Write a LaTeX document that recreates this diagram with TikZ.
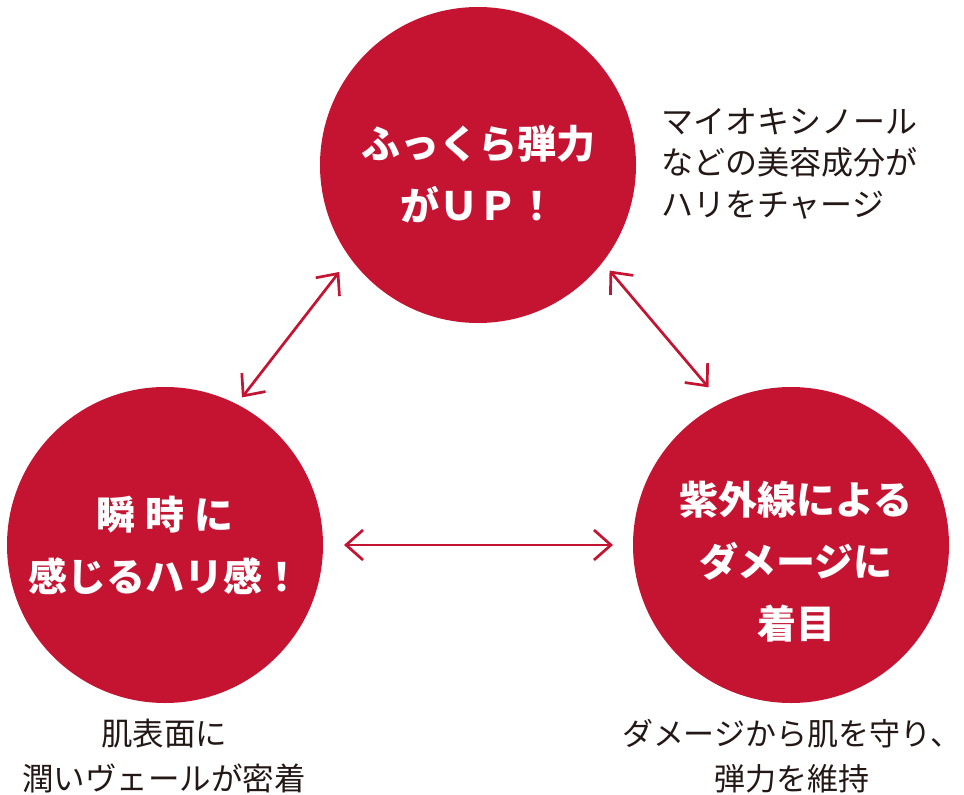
\documentclass[tikz,border=0pt]{standalone}
\usepackage{fontspec}
\newfontfamily\jpfont{Noto Sans CJK JP}
\definecolor{circred}{RGB}{197, 20, 50}
\definecolor{textblack}{RGB}{35, 24, 21}
\usetikzlibrary{arrows.meta}

\begin{document}
\begin{tikzpicture}[x=1pt, y=-1pt,
  bubble/.style={circle, fill=circred, minimum size=316pt, inner sep=0pt, outer sep=0pt},
  bubbletext/.style={text=white, align=center, inner sep=0pt, font=\jpfont\bfseries\fontsize{39}{62}\selectfont},
  note/.style={text=textblack, align=center, inner sep=0pt, font=\jpfont\fontsize{31.5}{45}\selectfont},
  link/.style={circred, line width=2.7pt, {Straight Barb[length=17pt, width=30pt]}-{Straight Barb[length=17pt, width=30pt]}}]
  \useasboundingbox (0,0) rectangle (964,795);

  % three circles
  \node[bubble] (top) at (478, 165) {};
  \node[bubbletext] (toptext) at (478, 174) {ふっくら弾力\\がＵＰ！};

  \node[bubble] (left) at (165, 545) {};
  \node[bubbletext] (lefttext) at (165, 545) {瞬\hspace{10pt}時\hspace{10pt}に\\感じるハリ感！};

  \node[bubble] (right) at (791, 545) {};
  \node[bubbletext] (righttext) at (796, 562) {紫外線による\\ダメージに\\着目};

  % notes
  \node[note, anchor=west, align=left, font=\jpfont\fontsize{32}{41.5}\selectfont] (topnote) at (661, 163.5) {マイオキシノール\\などの美容成分が\\ハリをチャージ};
  \node[note] (leftnote) at (164, 756.5) {肌表面に\\潤いヴェールが密着};
  \node[note, font=\jpfont\fontsize{31}{45}\selectfont] (rightnote) at (792, 756.5) {ダメージから肌を守り、\\弾力を維持};

  % arrows
  \draw[link, shorten <=17.8pt, shorten >=8.6pt] (top.216.6) -- (left.63.4);
  \draw[link, shorten <=10.9pt, shorten >=20.5pt] (top.322.3) -- (right.116.7);
  \draw[link, shorten <=21pt, shorten >=20pt] (left.east) -- (right.west);
\end{tikzpicture}
\end{document}
